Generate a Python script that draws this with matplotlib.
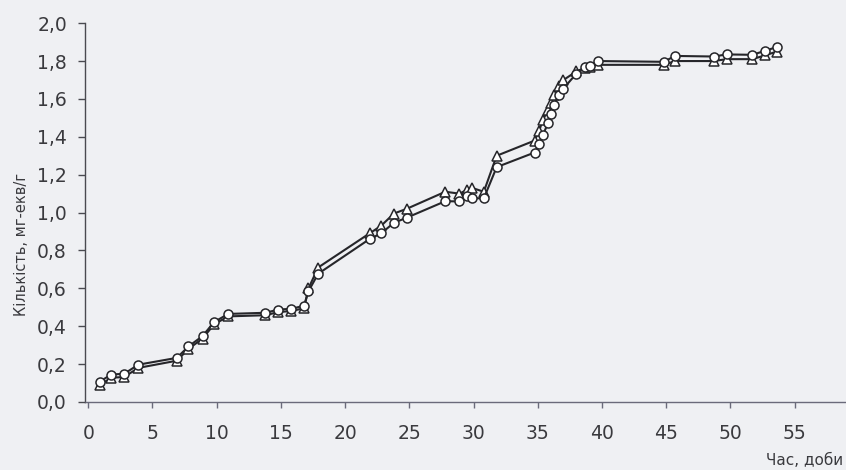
import matplotlib
matplotlib.use("Agg")
import matplotlib.pyplot as plt
import numpy as np

# time, days
days = [0.9, 1.8, 2.8, 3.9, 6.9, 7.8, 8.9, 9.8, 10.9, 13.8, 14.8, 15.8, 16.8,
        17.15, 17.9, 21.9, 22.8, 23.8, 24.8, 27.8, 28.9, 29.5, 29.9, 30.8, 31.8,
        34.75, 35.1, 35.4, 35.8, 36.0, 36.25, 36.65, 37.0, 38.0, 38.7, 39.1, 39.7,
        44.8, 45.7, 48.7, 49.7, 51.7, 52.7, 53.6]

series_circle = [0.108, 0.145, 0.149, 0.197, 0.233, 0.293, 0.348, 0.422, 0.465,
                 0.471, 0.488, 0.492, 0.508, 0.585, 0.677, 0.86, 0.89, 0.946,
                 0.973, 1.06, 1.059, 1.085, 1.076, 1.075, 1.24, 1.317, 1.36,
                 1.41, 1.472, 1.52, 1.57, 1.62, 1.655, 1.733, 1.77, 1.775, 1.80,
                 1.796, 1.827, 1.824, 1.835, 1.833, 1.854, 1.874]

series_triangle = [0.09, 0.128, 0.132, 0.18, 0.218, 0.28, 0.335, 0.41, 0.452,
                   0.458, 0.475, 0.48, 0.495, 0.60, 0.71, 0.89, 0.93, 0.995,
                   1.02, 1.11, 1.10, 1.12, 1.13, 1.11, 1.30, 1.38, 1.43, 1.49,
                   1.54, 1.58, 1.62, 1.67, 1.70, 1.745, 1.765, 1.77, 1.78,
                   1.78, 1.80, 1.80, 1.81, 1.81, 1.83, 1.85]

x_ticks = [0, 5, 10, 15, 20, 25, 30, 35, 40, 45, 50, 55]
y_ticks = [0.0, 0.2, 0.4, 0.6, 0.8, 1.0, 1.2, 1.4, 1.6, 1.8, 2.0]
y_tick_labels = ["0,0", "0,2", "0,4", "0,6", "0,8", "1,0", "1,2", "1,4", "1,6", "1,8", "2,0"]

bg = "#eff0f3"
ink = "#3a3a3e"
tick_font = ["DejaVu Sans"]

fig = plt.figure(figsize=(8.46, 4.70), dpi=100, facecolor=bg)
ax = fig.add_axes([0.1005, 0.1447, 0.8995, 0.806])
ax.set_facecolor(bg)

ax.plot(days, series_triangle, color="#26262a", lw=1.5, marker="^", ms=6.5,
        mfc="white", mec="#26262a", mew=1.1, zorder=3)
ax.plot(days, series_circle, color="#26262a", lw=1.5, marker="o", ms=6.5,
        mfc="white", mec="#26262a", mew=1.1, zorder=4)

ax.set_xlim(-0.25, 59)
ax.set_ylim(0, 2.0)
ax.set_xticks(x_ticks)
ax.set_xticklabels([str(t) for t in x_ticks], family=tick_font, fontsize=13.5, color=ink)
ax.set_yticks(y_ticks)
ax.set_yticklabels(y_tick_labels, family=tick_font, fontsize=13.5, color=ink)

for s in ["top", "right"]:
    ax.spines[s].set_visible(False)
ax.spines["left"].set_color("#4a4a50")
ax.spines["left"].set_linewidth(1.0)
ax.spines["bottom"].set_color("#6a6a7a")
ax.spines["bottom"].set_linewidth(1.0)
ax.spines["left"].set_zorder(1)
ax.spines["bottom"].set_zorder(1)

ax.tick_params(axis="y", direction="out", length=5, width=1.0, color="#4a4a50", pad=8)
ax.tick_params(axis="x", direction="out", length=4, width=1.0, color="#6a6a7a", pad=12)

fig.text(21 / 846, 1 - 245 / 470, "Кількість, мг-екв/г", fontsize=10.5, color=ink,
         family=["DejaVu Sans"], rotation=90, ha="center", va="center")

fig.text(766 / 846, 1 - 460 / 470, "Час, доби", fontsize=11, color=ink,
         family=tick_font, ha="left", va="center")

fig.savefig("out.png", dpi=100, facecolor=bg)
